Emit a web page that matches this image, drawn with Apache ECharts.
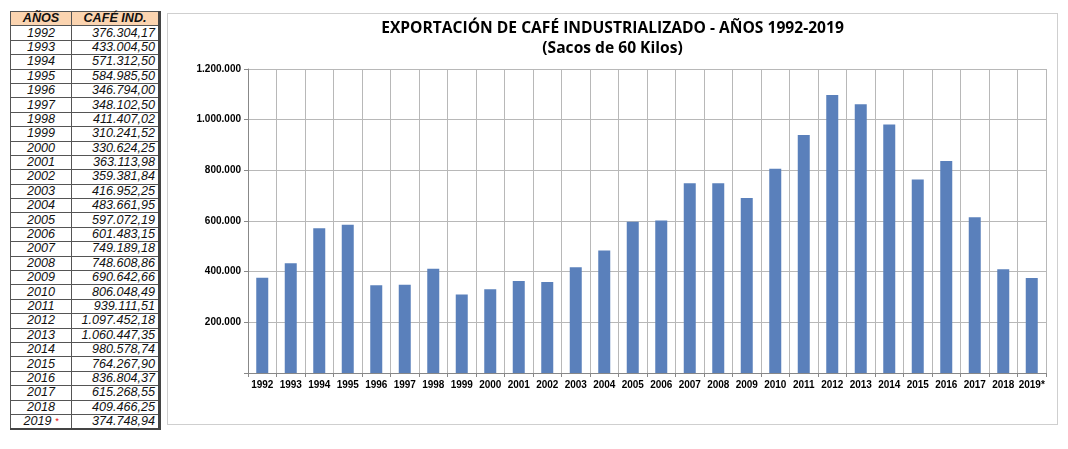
<!DOCTYPE html>
<html>
<head>
<meta charset="utf-8">
<script src="https://cdn.jsdelivr.net/npm/echarts@6/dist/echarts.min.js"></script>
<style>
html,body{margin:0;padding:0;background:#fff;width:1068px;height:449px;overflow:hidden;}
#tbl{position:absolute;left:10px;top:11px;border-collapse:collapse;font-family:"Liberation Sans",Arial,sans-serif;font-style:italic;font-size:12.6px;color:#111;}
#tbl td,#tbl th{border:1px solid #555;padding:0 3px;height:13.4px;line-height:13px;}
#tbl th{background:#fbd4b0;font-weight:bold;font-size:12.6px;}
#tbl td.y{text-align:center;width:54px;}
#tbl td.v{text-align:right;width:80px;}
#tbl{border-right:3px solid #444;border-bottom:2px solid #444;}
#chart{position:absolute;left:167px;top:13px;width:889px;height:410px;border:1px solid #cfcfcf;}
.star{color:#e00;font-size:9px;vertical-align:top;}
</style>
</head>
<body>
<table id="tbl"></table>
<div id="chart"></div>
<script>
const years = ['1992','1993','1994','1995','1996','1997','1998','1999','2000','2001','2002','2003','2004','2005','2006','2007','2008','2009','2010','2011','2012','2013','2014','2015','2016','2017','2018','2019*'];
const values = [376304.17,433004.50,571312.50,584985.50,346794.00,348102.50,411407.02,310241.52,330624.25,363113.98,359381.84,416952.25,483661.95,597072.19,601483.15,749189.18,748608.86,690642.66,806048.49,939111.51,1097452.18,1060447.35,980578.74,764267.90,836804.37,615268.55,409466.25,374748.94];
const yTicks = [0,200000,400000,600000,800000,1000000,1200000];
const titleText = 'EXPORTACIÓN DE CAFÉ INDUSTRIALIZADO - AÑOS 1992-2019';
const subtitleText = '(Sacos de 60 Kilos)';
const tableHeaders = ['AÑOS','CAFÉ IND.'];

function fmtNum(v, dec){
  const parts = v.toFixed(dec).split('.');
  parts[0] = parts[0].replace(/\B(?=(\d{3})+(?!\d))/g,'.');
  return dec ? parts[0]+','+parts[1] : parts[0];
}

const tbl = document.getElementById('tbl');
let html = '<tr><th>'+tableHeaders[0]+'</th><th>'+tableHeaders[1]+'</th></tr>';
years.forEach((y,i)=>{
  const yl = y.endsWith('*') ? y.slice(0,-1)+' <span class="star">*</span>' : y;
  html += '<tr><td class="y">'+yl+'</td><td class="v">'+fmtNum(values[i],2)+'</td></tr>';
});
tbl.innerHTML = html;

const chart = echarts.init(document.getElementById('chart'));
chart.setOption({
  animation:false,
  title:[
    {text:titleText,left:'center',top:2,textStyle:{fontFamily:'Open Sans',fontWeight:'bold',fontSize:15.6,color:'#000'}},
    {text:subtitleText,left:'center',top:22,textStyle:{fontFamily:'Open Sans',fontWeight:'bold',fontSize:15.6,color:'#000'}}
  ],
  grid:{left:80,right:11,top:55,bottom:51},
  xAxis:{
    type:'category',data:years,boundaryGap:true,
    axisLine:{lineStyle:{color:'#888'}},
    axisTick:{show:true,alignWithLabel:false,length:4,lineStyle:{color:'#888'}},
    splitLine:{show:true,lineStyle:{color:'#b8b8b8'}},
    axisLabel:{interval:0,fontFamily:'Liberation Sans',fontWeight:'bold',fontSize:10,color:'#000',margin:7}
  },
  yAxis:{
    type:'value',min:yTicks[0],max:yTicks[yTicks.length-1],interval:yTicks[1]-yTicks[0],
    axisLine:{show:true,lineStyle:{color:'#888'}},
    axisTick:{show:true,length:4,lineStyle:{color:'#888'}},
    splitLine:{lineStyle:{color:'#b8b8b8'}},
    axisLabel:{fontFamily:'Liberation Sans',fontWeight:'bold',fontSize:10,color:'#000',margin:7,
      formatter:v=> v===0 ? '' : fmtNum(v,0)}
  },
  series:[{type:'bar',data:values,barWidth:12,itemStyle:{color:'#5a80bb'}}]
});
</script>
</body>
</html>
